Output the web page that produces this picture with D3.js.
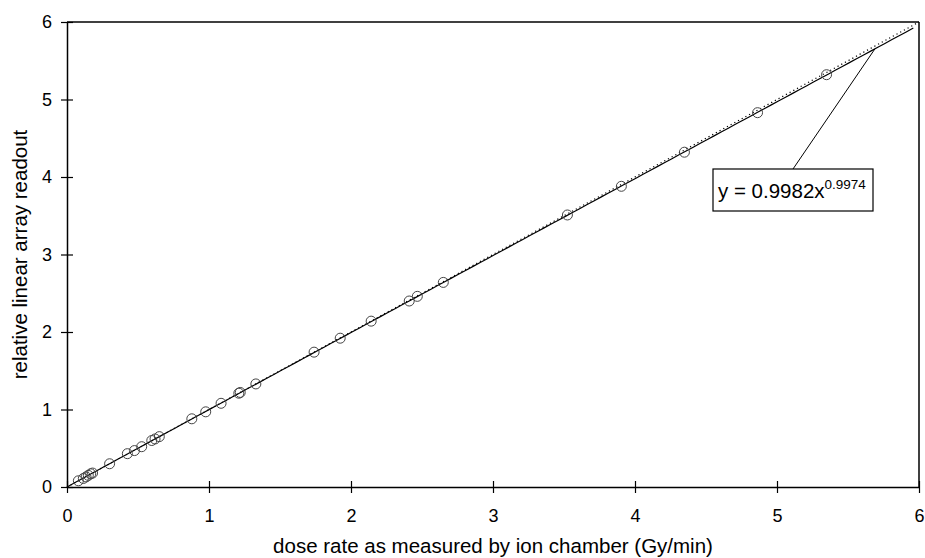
<!DOCTYPE html>
<html>
<head>
<meta charset="utf-8">
<script src="https://cdn.jsdelivr.net/npm/d3@7"></script>
<style>
  body { margin: 0; background: #fff; }
  svg { font-family: "Liberation Sans", Arial, sans-serif; }
</style>
</head>
<body>
<svg id="chart" width="925" height="558"></svg>
<script>
// Linear array readout vs ion chamber dose rate.

var doseRate = [0.08, 0.115, 0.134, 0.15, 0.167, 0.18, 0.30, 0.425, 0.475, 0.526, 0.597, 0.62, 0.65,
                0.879, 0.977, 1.085, 1.21, 1.22, 1.33, 1.74, 1.924, 2.142, 2.41, 2.467, 2.65,
                3.524, 3.904, 4.348, 4.863, 5.349];
var readout = [0.08, 0.11, 0.13, 0.15, 0.17, 0.18, 0.30, 0.43, 0.47, 0.52, 0.60, 0.62, 0.65,
               0.88, 0.97, 1.08, 1.21, 1.22, 1.33, 1.74, 1.92, 2.14, 2.40, 2.46, 2.64,
               3.51, 3.88, 4.32, 4.83, 5.32];
var xTicks = [0, 1, 2, 3, 4, 5, 6];
var yTicks = [0, 1, 2, 3, 4, 5, 6];
var fitA = 0.9982, fitB = 0.9974;

var margin = { left: 67, right: 6, top: 22, bottom: 71 };
var width = 925 - margin.left - margin.right;
var height = 558 - margin.top - margin.bottom;

var svg = d3.select("#chart");
var g = svg.append("g").attr("transform", "translate(" + margin.left + "," + margin.top + ")");

var x = d3.scaleLinear().domain([0, 6]).range([0, width]);
var y = d3.scaleLinear().domain([0, 6]).range([height, 0]);

// frame (top and right)
g.append("line").attr("x1", 0).attr("x2", width).attr("y1", 0).attr("y2", 0)
    .attr("stroke", "#000").attr("stroke-width", 1.5);
g.append("line").attr("x1", width).attr("x2", width).attr("y1", 0).attr("y2", height)
    .attr("stroke", "#000").attr("stroke-width", 1.5);

// axes, ticks cross the axis line
var xAxis = g.append("g").attr("transform", "translate(0," + height + ")")
    .call(d3.axisBottom(x).tickValues(xTicks).tickFormat(d3.format("d")).tickSizeOuter(0).tickPadding(16));
xAxis.selectAll(".tick line").attr("y1", -6).attr("y2", 6);
var yAxis = g.append("g")
    .call(d3.axisLeft(y).tickValues(yTicks).tickFormat(d3.format("d")).tickSizeOuter(0).tickPadding(9));
yAxis.selectAll(".tick line").attr("x1", 6).attr("x2", -6);
g.selectAll(".domain").attr("stroke-width", 1.5);
g.selectAll(".tick line").attr("stroke-width", 1.2);
g.selectAll(".tick text").attr("font-size", 18).attr("fill", "#000")
    .attr("font-family", "Liberation Sans, Arial, sans-serif");

// identity line (dotted)
g.append("line")
    .attr("x1", x(0)).attr("y1", y(0)).attr("x2", x(6)).attr("y2", y(6))
    .attr("stroke", "#000").attr("stroke-width", 1.2).attr("stroke-dasharray", "1.2,3");

// power fit trendline
var fitPts = d3.range(0.01, 6.0001, 0.05).map(function (d) { return [d, fitA * Math.pow(d, fitB)]; });
fitPts.unshift([0, 0]);
g.append("path").datum(fitPts)
    .attr("fill", "none").attr("stroke", "#000").attr("stroke-width", 1.2)
    .attr("d", d3.line().x(function (d) { return x(d[0]); }).y(function (d) { return y(d[1]); }));

// data points
g.selectAll(".pt").data(doseRate).enter().append("circle")
    .attr("class", "pt")
    .attr("cx", function (d) { return x(d); })
    .attr("cy", function (d, i) { return y(readout[i]); })
    .attr("r", 5)
    .attr("fill", "none").attr("stroke", "#444").attr("stroke-width", 1);

// equation label with leader line
var boxX = 713 - margin.left, boxY = 169 - margin.top, boxW = 160, boxH = 42;
var leadEnd = 5.69;
g.append("line")
    .attr("x1", boxX + 80).attr("y1", boxY)
    .attr("x2", x(leadEnd)).attr("y2", y(fitA * Math.pow(leadEnd, fitB)))
    .attr("stroke", "#000").attr("stroke-width", 1);
g.append("rect").attr("x", boxX).attr("y", boxY).attr("width", boxW).attr("height", boxH)
    .attr("fill", "#fff").attr("stroke", "#000").attr("stroke-width", 1.2);
var eq = g.append("text").attr("x", boxX + 5).attr("y", boxY + 29)
    .attr("font-size", 20.5).attr("fill", "#000");
eq.append("tspan").text("y = " + fitA + "x");
eq.append("tspan").attr("font-size", 13.5).attr("dy", -9).text(fitB);

// axis titles
svg.append("text")
    .attr("x", margin.left + width / 2).attr("y", 553)
    .attr("text-anchor", "middle").attr("font-size", 20.5)
    .text("dose rate as measured by ion chamber (Gy/min)");
svg.append("text")
    .attr("transform", "translate(27," + (margin.top + height / 2) + ") rotate(-90)")
    .attr("text-anchor", "middle").attr("font-size", 20.5)
    .text("relative linear array readout");
</script>
</body>
</html>
